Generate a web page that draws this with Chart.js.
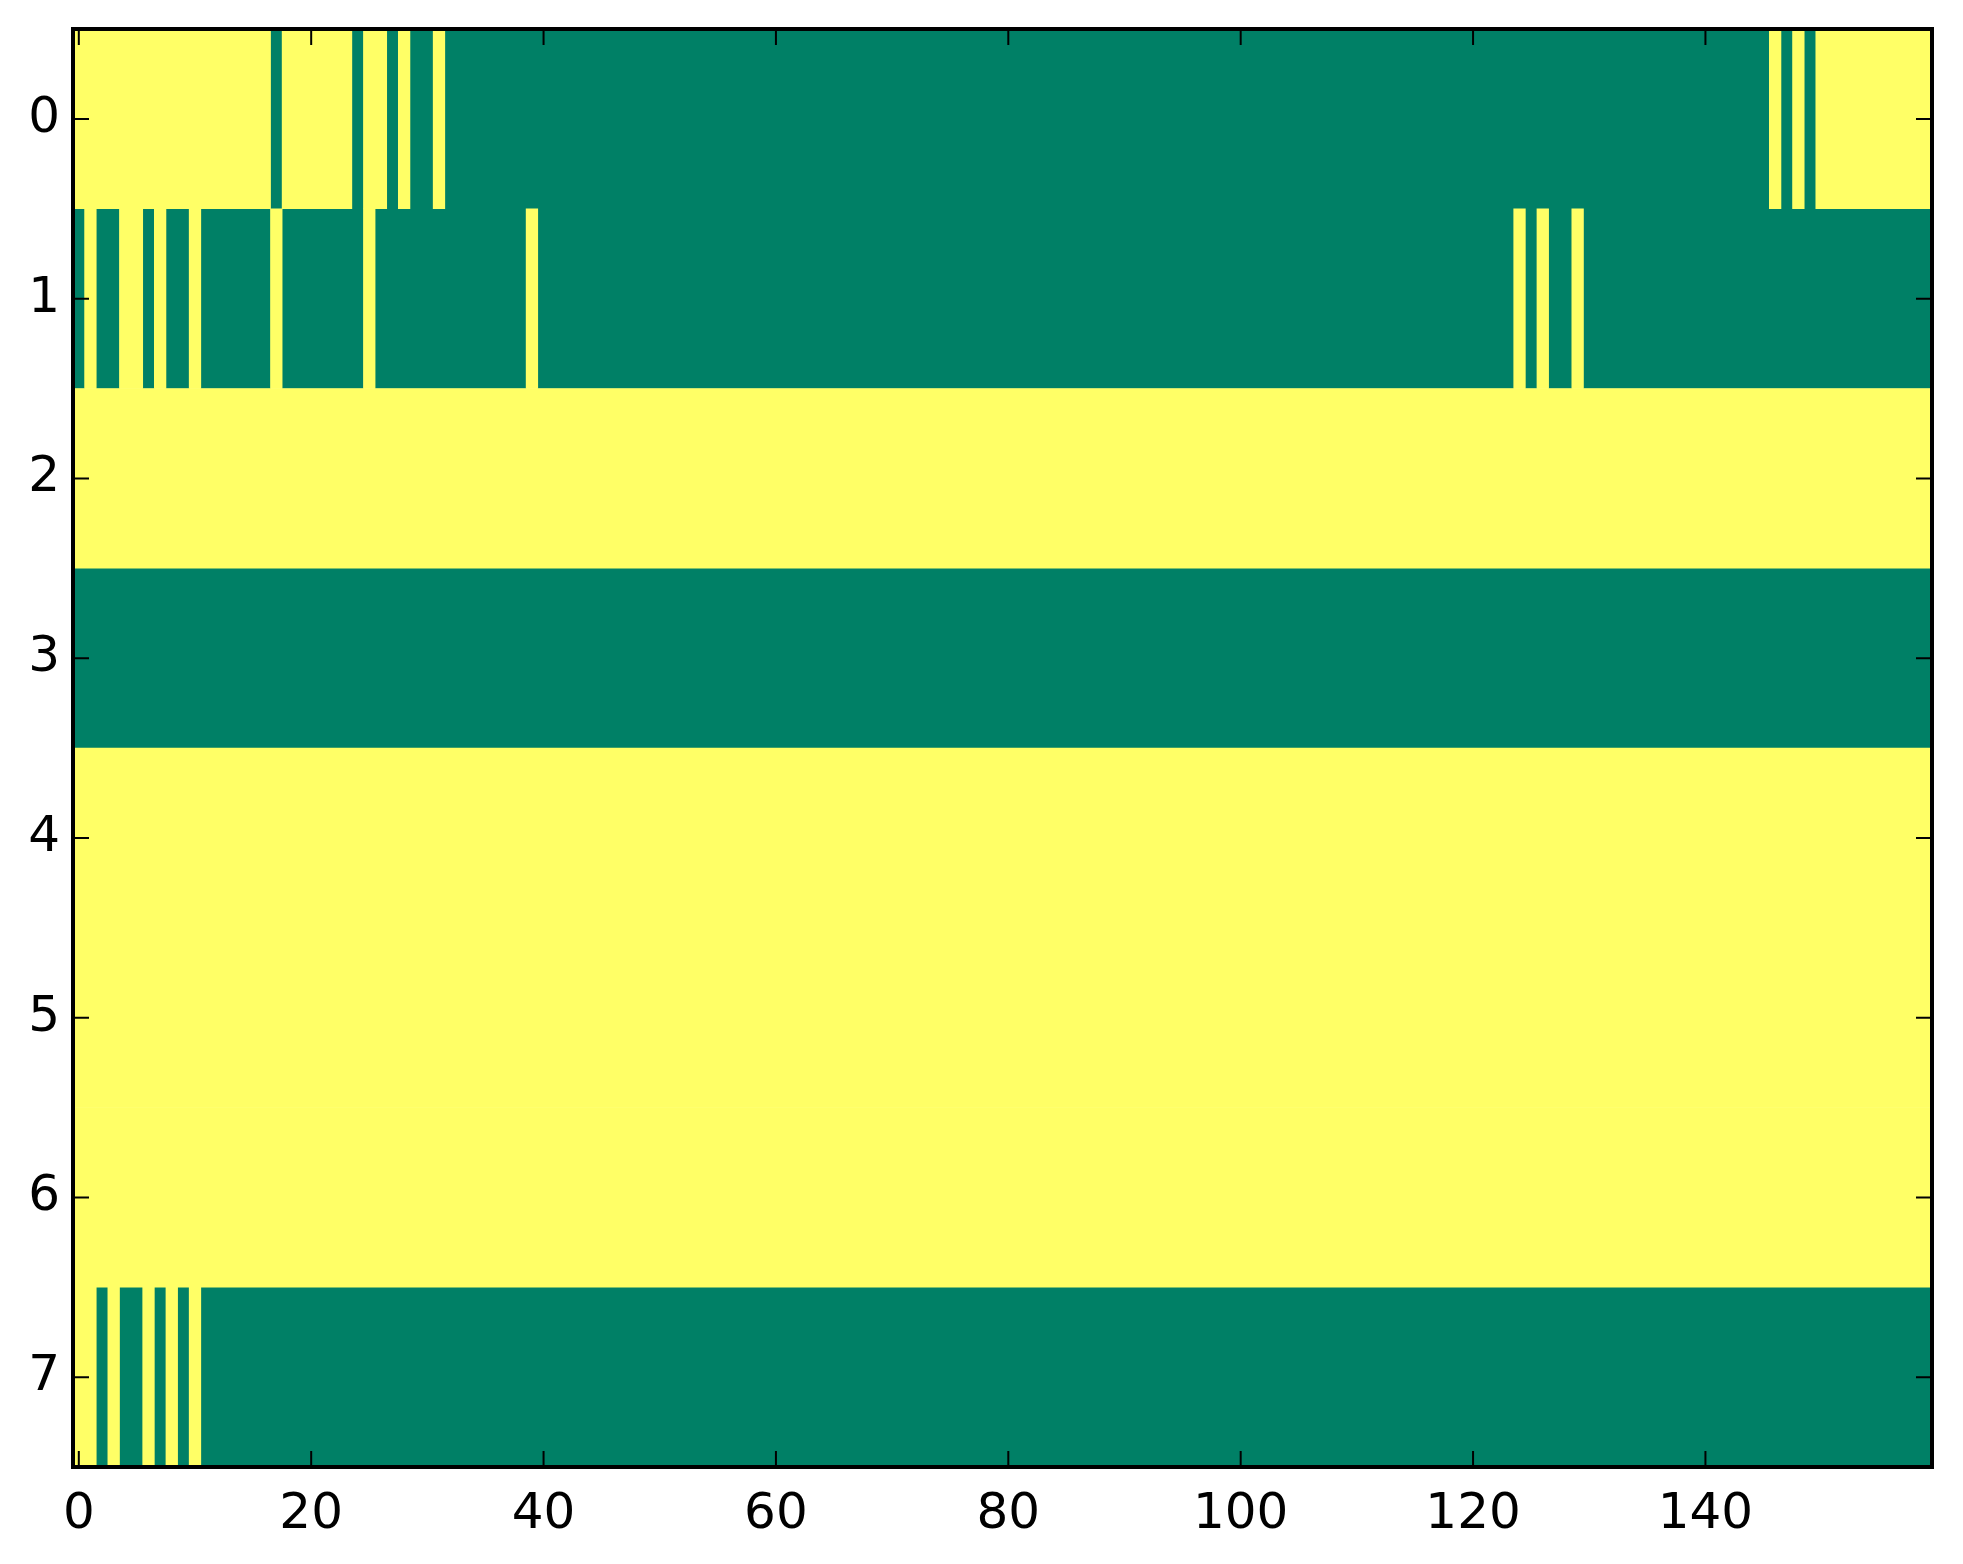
<!DOCTYPE html>
<html>
<head>
<meta charset="utf-8">
<script src="https://cdn.jsdelivr.net/npm/chart.js@4/dist/chart.umd.min.js"></script>
<style>
  html, body { margin: 0; padding: 0; background: #ffffff; }
  #wrap { width: 1963px; height: 1564px; }
</style>
</head>
<body>
<div id="wrap"><canvas id="myChart" width="1963" height="1564"></canvas></div>
<script>
// binary image, 8 rows x 160 columns (1 = yellow, 0 = green), groups of 10 columns
let rowBits = [
    '1111111111 1111111011 1111011010 0100000000 0000000000 0000000000 0000000000 0000000000 ' +
    '0000000000 0000000000 0000000000 0000000000 0000000000 0000000000 0000001010 1111111111',
    '0100110100 1000000100 0000010000 0000000001 0000000000 0000000000 0000000000 0000000000 ' +
    '0000000000 0000000000 0000000000 0000000000 0000101001 0000000000 0000000000 0000000000',
    '1111111111 1111111111 1111111111 1111111111 1111111111 1111111111 1111111111 1111111111 ' +
    '1111111111 1111111111 1111111111 1111111111 1111111111 1111111111 1111111111 1111111111',
    '0000000000 0000000000 0000000000 0000000000 0000000000 0000000000 0000000000 0000000000 ' +
    '0000000000 0000000000 0000000000 0000000000 0000000000 0000000000 0000000000 0000000000',
    '1111111111 1111111111 1111111111 1111111111 1111111111 1111111111 1111111111 1111111111 ' +
    '1111111111 1111111111 1111111111 1111111111 1111111111 1111111111 1111111111 1111111111',
    '1111111111 1111111111 1111111111 1111111111 1111111111 1111111111 1111111111 1111111111 ' +
    '1111111111 1111111111 1111111111 1111111111 1111111111 1111111111 1111111111 1111111111',
    '1111111111 1111111111 1111111111 1111111111 1111111111 1111111111 1111111111 1111111111 ' +
    '1111111111 1111111111 1111111111 1111111111 1111111111 1111111111 1111111111 1111111111',
    '1101001010 1000000000 0000000000 0000000000 0000000000 0000000000 0000000000 0000000000 ' +
    '0000000000 0000000000 0000000000 0000000000 0000000000 0000000000 0000000000 0000000000'
];
let rowLabels = [0, 1, 2, 3, 4, 5, 6, 7];
let xTicks = [0, 20, 40, 60, 80, 100, 120, 140];
let yTicks = [0, 1, 2, 3, 4, 5, 6, 7];

let green = '#008066';
let yellow = '#ffff66';

// turn each row into runs of equal value -> floating bars
let yellowRuns = [];
let greenRuns = [];
rowBits.forEach(function (str, r) {
    let bits = str.replace(/ /g, '');
    let start = 0;
    for (let c = 1; c <= bits.length; c++) {
        if (c === bits.length || bits[c] !== bits[start]) {
            let bar = { y: rowLabels[r], x: [start - 0.5, c - 0.5] };
            if (bits[start] === '1') yellowRuns.push(bar); else greenRuns.push(bar);
            start = c;
        }
    }
});

// matplotlib-like frame with inward ticks on all four sides
let framePlugin = {
    id: 'frame',
    afterDraw: function (chart) {
        let ctx = chart.ctx;
        let a = chart.chartArea;
        let xs = chart.scales.x, ys = chart.scales.y;
        ctx.save();
        ctx.strokeStyle = '#000000';
        ctx.lineWidth = 2;
        ctx.beginPath();
        xTicks.forEach(function (v) {
            let px = xs.getPixelForValue(v);
            ctx.moveTo(px, a.bottom); ctx.lineTo(px, a.bottom - 16);
            ctx.moveTo(px, a.top); ctx.lineTo(px, a.top + 16);
        });
        yTicks.forEach(function (v) {
            let py = ys.getPixelForValue(v);
            ctx.moveTo(a.left, py); ctx.lineTo(a.left + 16, py);
            ctx.moveTo(a.right, py); ctx.lineTo(a.right - 16, py);
        });
        ctx.stroke();
        ctx.lineWidth = 4;
        ctx.strokeRect(a.left, a.top, a.right - a.left, a.bottom - a.top);
        ctx.restore();
    }
};

let tickFont = { family: 'DejaVu Sans', size: 50 };

function noEdgePadding(scale) {
    scale.paddingTop = 0;
    scale.paddingBottom = 0;
    scale.paddingLeft = 0;
    scale.paddingRight = 0;
}

let ctx = document.getElementById('myChart').getContext('2d');
let myChart = new Chart(ctx, {
    type: 'bar',
    data: {
        datasets: [{
            label: 'yellow',
            data: yellowRuns,
            backgroundColor: yellow,
            borderWidth: 0
        }, {
            label: 'green',
            data: greenRuns,
            backgroundColor: green,
            borderWidth: 0
        }]
    },
    options: {
        indexAxis: 'y',
        responsive: false,
        devicePixelRatio: 1,
        animation: false,
        grouped: false,
        barPercentage: 1,
        categoryPercentage: 1,
        layout: { padding: { left: 0, top: 29, right: 31, bottom: 0 } },
        plugins: {
            legend: { display: false },
            tooltip: { enabled: false }
        },
        scales: {
            x: {
                type: 'linear',
                min: -0.5,
                max: 159.5,
                grid: { display: false, drawTicks: false },
                border: { display: false },
                afterBuildTicks: function (scale) {
                    scale.ticks = xTicks.map(function (v) { return { value: v }; });
                },
                afterFit: function (scale) { scale.height = 97; noEdgePadding(scale); },
                ticks: {
                    font: tickFont,
                    color: '#000000',
                    padding: 18,
                    maxRotation: 0,
                    autoSkip: false
                }
            },
            y: {
                type: 'linear',
                reverse: true,
                min: -0.5,
                max: 7.5,
                offset: false,
                grid: { display: false, drawTicks: false },
                border: { display: false },
                afterBuildTicks: function (scale) {
                    scale.ticks = yTicks.map(function (v) { return { value: v }; });
                },
                afterFit: function (scale) { scale.width = 73; noEdgePadding(scale); },
                ticks: {
                    font: tickFont,
                    color: '#000000',
                    padding: 13,
                    autoSkip: false
                }
            }
        }
    },
    plugins: [framePlugin]
});
</script>
</body>
</html>
